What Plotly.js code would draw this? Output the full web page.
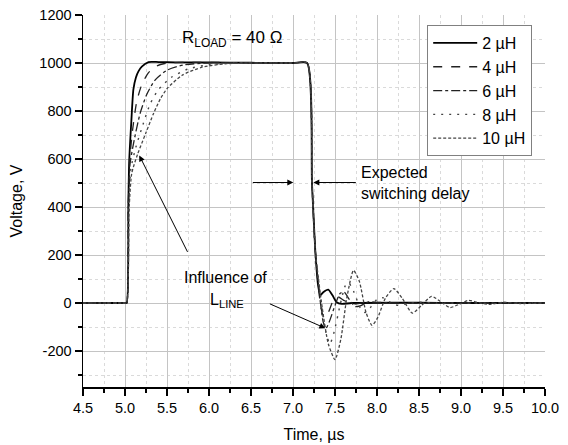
<!DOCTYPE html>
<html>
<head>
<meta charset="utf-8">
<script src="https://cdn.plot.ly/plotly-3.0.1.min.js"></script>
<style>html,body{margin:0;padding:0;background:#fff;}#chart{width:568px;height:445px;}</style>
</head>
<body>
<div id="chart"></div>
<script>
const seriesNames = ["2 \u00b5H", "4 \u00b5H", "6 \u00b5H", "8 \u00b5H", "10 \u00b5H"];

const yTickVals = [-200, 0, 200, 400, 600, 800, 1000, 1200];
const yTickLabels = ["-200", "0", "200", "400", "600", "800", "1000", "1200"];

const t2  = [4.5, 5.0, 5.02, 5.04, 5.05, 5.075, 5.10, 5.13, 5.16, 5.20, 5.28, 5.40, 5.6, 6.0, 6.5, 7.0, 7.167, 7.226, 7.265, 7.30, 7.325, 7.36, 7.42, 7.47, 7.52, 7.58, 7.7, 8.5, 9.0, 10.0];
const v2  = [0, 0, 0, 420, 590, 755, 890, 940, 965, 985, 1004, 1004, 1003, 1002, 1001, 1000, 1000, 500, 220, 70, 32, 45, 56, 32, 3, -4, 0, 1, 0, 0];

const t4  = [4.5, 5.0, 5.02, 5.04, 5.055, 5.09, 5.14, 5.20, 5.28, 5.38, 5.5, 5.8, 6.5, 7.0, 7.167, 7.226, 7.265, 7.31, 7.35, 7.38, 7.42, 7.48, 7.54, 7.6, 7.7, 7.85, 8.0, 9.0, 10.0];
const v4  = [0, 0, 0, 410, 590, 720, 840, 910, 960, 988, 1000, 1003, 1001, 1000, 1000, 500, 220, 40, -45, -60, -40, 10, 25, 12, -5, 2, 0, 0, 0];

const t6  = [4.5, 5.0, 5.02, 5.04, 5.06, 5.11, 5.18, 5.26, 5.36, 5.5, 5.7, 6.0, 6.5, 7.0, 7.167, 7.226, 7.265, 7.32, 7.36, 7.39, 7.43, 7.5, 7.56, 7.61, 7.67, 7.74, 7.8, 7.9, 8.0, 8.2, 9.0, 10.0];
const v6  = [0, 0, 0, 400, 580, 680, 790, 870, 930, 970, 992, 1001, 1001, 1000, 1000, 500, 220, 20, -80, -107, -80, -10, 40, 45, 15, -15, -12, 5, 3, 0, 0, 0];

const t8  = [4.5, 5.0, 5.02, 5.045, 5.07, 5.13, 5.22, 5.30, 5.40, 5.55, 5.75, 6.0, 6.3, 7.0, 7.167, 7.226, 7.265, 7.33, 7.39, 7.44, 7.49, 7.56, 7.62, 7.66, 7.72, 7.80, 7.86, 7.93, 8.0, 8.07, 8.15, 8.25, 8.35, 8.5, 8.7, 10.0];
const v8  = [0, 0, 0, 400, 560, 650, 750, 830, 890, 940, 975, 993, 1000, 1000, 1000, 500, 220, 10, -120, -170, -120, -10, 70, 85, 50, -20, -40, -15, 15, 22, 5, -10, -3, 3, 0, 0];

const t10 = [4.5, 5.0, 5.02, 5.05, 5.08, 5.15, 5.25, 5.34, 5.42, 5.5, 5.68, 5.92, 6.2, 6.5, 7.0, 7.167, 7.226, 7.265, 7.34, 7.42, 7.50, 7.57, 7.64, 7.72, 7.79, 7.87, 7.94, 8.01, 8.10, 8.20, 8.30, 8.42, 8.53, 8.65, 8.76, 8.87, 8.98, 9.09, 9.2, 9.33, 9.5, 9.7, 10.0];
const v10 = [0, 0, 0, 400, 540, 620, 710, 790, 850, 893, 949, 983, 997, 1000, 1000, 1000, 500, 220, 0, -170, -236, -150, 20, 136, 90, -40, -93, -60, 20, 60, 20, -42, -10, 28, 5, -19, -5, 11, 2, -6, 3, -2, 0];

const xTimes = [t2, t4, t6, t8, t10];
const yVolts = [v2, v4, v6, v8, v10];
const dashes = ["solid", "dash", "dashdot", "2px,6px", "3px,2px"];
const widths = [1.8, 1.3, 1.3, 1.4, 1.3];
const colors = ["#000000", "#222222", "#222222", "#444444", "#444444"];

const traces = seriesNames.map((n, i) => ({
  x: xTimes[i], y: yVolts[i], name: n, type: "scatter", mode: "lines",
  line: {color: colors[i], width: widths[i], dash: dashes[i], shape: "spline", smoothing: 0.6}
}));

const FONT = "Arial, 'Liberation Sans', sans-serif";
const gridMajor = "#c4c4c4";
const gridMinor = "#dadada";

const layout = {
  width: 568, height: 445,
  margin: {l: 83, r: 23, t: 15, b: 58},
  paper_bgcolor: "#fff", plot_bgcolor: "#fff",
  font: {family: FONT, color: "#000", size: 14},
  showlegend: true,
  legend: {x: 0.745, y: 0.973, xanchor: "left", yanchor: "top", bgcolor: "#fff",
           bordercolor: "#808080", borderwidth: 1, itemwidth: 44,
           font: {family: FONT, size: 16}},
  xaxis: {
    range: [4.5, 10], tick0: 4.5, dtick: 0.5, tickformat: ".1f",
    ticks: "outside", ticklen: 7, tickwidth: 1.2, tickcolor: "#000",
    showline: true, linecolor: "#000", linewidth: 1.5,
    showgrid: true, gridcolor: gridMajor, gridwidth: 1, zeroline: false,
    minor: {dtick: 0.25, ticks: "outside", ticklen: 4, tickcolor: "#000", showgrid: true, gridcolor: gridMinor, griddash: "dot"},
    tickfont: {family: FONT, size: 14.5},
    title: {text: "Time, \u00b5s", font: {family: FONT, size: 16}, standoff: 14}
  },
  yaxis: {
    range: [-350, 1200], tickmode: "array", tickvals: yTickVals, ticktext: yTickLabels,
    ticks: "outside", ticklen: 7, tickwidth: 1.2, tickcolor: "#000",
    showline: true, linecolor: "#000", linewidth: 1.5,
    showgrid: true, gridcolor: gridMajor, gridwidth: 1, zeroline: false,
    minor: {tick0: 0, dtick: 100, ticks: "outside", ticklen: 4, tickcolor: "#000", showgrid: true, gridcolor: gridMinor, griddash: "dot"},
    tickfont: {family: FONT, size: 14.5},
    title: {text: "Voltage, V", font: {family: FONT, size: 16}, standoff: 12}
  },
  xaxis2: {
    overlaying: "x", side: "top", anchor: "y", range: [4.5, 10], tick0: 4.5, dtick: 0.5,
    ticks: "inside", ticklen: 6, tickwidth: 1.2, tickcolor: "#000",
    minor: {dtick: 0.25, ticks: "inside", ticklen: 4, tickcolor: "#000", showgrid: false},
    showticklabels: false, showgrid: false, zeroline: false,
    showline: true, linecolor: "#000", linewidth: 1.5
  },
  yaxis2: {
    overlaying: "y", side: "right", anchor: "x", range: [-350, 1200], tick0: 0, dtick: 200,
    ticks: "inside", ticklen: 6, tickwidth: 1.2, tickcolor: "#000",
    minor: {dtick: 100, ticks: "inside", ticklen: 4, tickcolor: "#000", showgrid: false},
    showticklabels: false, showgrid: false, zeroline: false,
    showline: true, linecolor: "#000", linewidth: 1.5
  },
  annotations: [
    {x: 5.66, y: 1102, xref: "x", yref: "y", xanchor: "left", yanchor: "middle", showarrow: false,
     text: "R<sub>LOAD</sub> = 40 \u03a9", font: {family: FONT, size: 17}},
    {x: 6.2, y: 107, xref: "x", yref: "y", xanchor: "center", yanchor: "middle", showarrow: false,
     text: "Influence of", font: {family: FONT, size: 16}},
    {x: 6.22, y: 12, xref: "x", yref: "y", xanchor: "center", yanchor: "middle", showarrow: false,
     text: "L<sub>LINE</sub>", font: {family: FONT, size: 16}},
    {x: 7.79, y: 500, xref: "x", yref: "y", xanchor: "left", yanchor: "middle", align: "left", showarrow: false,
     text: "Expected<br>switching delay", font: {family: FONT, size: 16}},
    {x: 5.17, y: 615, xref: "x", yref: "y", text: "", showarrow: true, ax: 49, ay: 98,
     arrowhead: 2, arrowsize: 1.2, arrowwidth: 1, arrowcolor: "#000"},
    {x: 7.385, y: -105, xref: "x", yref: "y", text: "", showarrow: true, ax: -57, ay: -25,
     arrowhead: 2, arrowsize: 1.2, arrowwidth: 1, arrowcolor: "#000"},
    {x: 7.004, y: 502, xref: "x", yref: "y", text: "", showarrow: true, ax: -42, ay: 0,
     arrowhead: 2, arrowsize: 1.2, arrowwidth: 1, arrowcolor: "#000"},
    {x: 7.242, y: 502, xref: "x", yref: "y", text: "", showarrow: true, ax: 44, ay: 0,
     arrowhead: 2, arrowsize: 1.2, arrowwidth: 1, arrowcolor: "#000"}
  ]
};

Plotly.newPlot("chart", traces, layout, {displayModeBar: false, staticPlot: true});
</script>
</body>
</html>
